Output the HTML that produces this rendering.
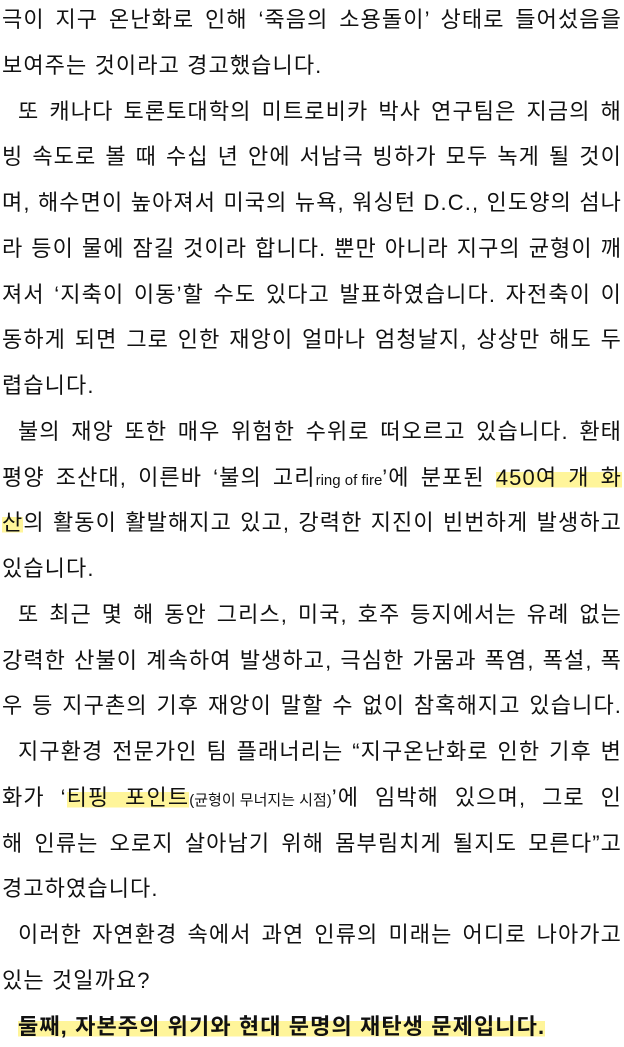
<!DOCTYPE html>
<html><head><meta charset="utf-8"><style>
html,body{margin:0;padding:0;background:#fff;width:624px;height:1047px;overflow:hidden}
body{position:relative;font-family:"Liberation Sans","Noto Sans CJK KR",sans-serif;font-size:22px;letter-spacing:1.1px;color:#111}
.l{position:absolute;left:2px;width:620px;height:30px;line-height:30px;white-space:nowrap;text-align:justify;text-align-last:justify}
.e{text-align-last:left}
.i{padding-left:16px;width:604px}
.s{font-size:15px;letter-spacing:0;display:inline-block}
.h{background:linear-gradient(transparent 28%,#fff59a 28%,#fff59a 90%,transparent 90%)}
.b{font-weight:bold;letter-spacing:1.1px}
</style></head><body>
<div class="l" style="top:5px">극이 지구 온난화로 인해 ‘죽음의 소용돌이’ 상태로 들어섰음을</div>
<div class="l e" style="top:51px">보여주는 것이라고 경고했습니다.</div>
<div class="l i" style="top:97px">또 캐나다 토론토대학의 미트로비카 박사 연구팀은 지금의 해</div>
<div class="l" style="top:142px">빙 속도로 볼 때 수십 년 안에 서남극 빙하가 모두 녹게 될 것이</div>
<div class="l" style="top:188px">며, 해수면이 높아져서 미국의 뉴욕, 워싱턴 D.C., 인도양의 섬나</div>
<div class="l" style="top:234px">라 등이 물에 잠길 것이라 합니다. 뿐만 아니라 지구의 균형이 깨</div>
<div class="l" style="top:280px">져서 ‘지축이 이동’할 수도 있다고 발표하였습니다. 자전축이 이</div>
<div class="l" style="top:325px">동하게 되면 그로 인한 재앙이 얼마나 엄청날지, 상상만 해도 두</div>
<div class="l e" style="top:371px">렵습니다.</div>
<div class="l i" style="top:417px">불의 재앙 또한 매우 위험한 수위로 떠오르고 있습니다. 환태</div>
<div class="l" style="top:463px">평양 조산대, 이른바 ‘불의 고리<span class="s">ring of fire</span>’에 분포된 <span class="h">450여 개 화</span></div>
<div class="l" style="top:508px"><span class="h">산</span>의 활동이 활발해지고 있고, 강력한 지진이 빈번하게 발생하고</div>
<div class="l e" style="top:554px">있습니다.</div>
<div class="l i" style="top:600px">또 최근 몇 해 동안 그리스, 미국, 호주 등지에서는 유례 없는</div>
<div class="l" style="top:646px">강력한 산불이 계속하여 발생하고, 극심한 가뭄과 폭염, 폭설, 폭</div>
<div class="l" style="top:691px">우 등 지구촌의 기후 재앙이 말할 수 없이 참혹해지고 있습니다.</div>
<div class="l i" style="top:737px">지구환경 전문가인 팀 플래너리는 “지구온난화로 인한 기후 변</div>
<div class="l" style="top:783px">화가 ‘<span class="h">티핑 포인트</span><span class="s">(균형이 무너지는 시점)</span>’에 임박해 있으며, 그로 인</div>
<div class="l" style="top:829px">해 인류는 오로지 살아남기 위해 몸부림치게 될지도 모른다”고</div>
<div class="l e" style="top:874px">경고하였습니다.</div>
<div class="l i" style="top:920px">이러한 자연환경 속에서 과연 인류의 미래는 어디로 나아가고</div>
<div class="l e" style="top:966px">있는 것일까요?</div>
<div class="l i e" style="top:1012px"><span class="h b">둘째, 자본주의 위기와 현대 문명의 재탄생 문제입니다.</span></div>
</body></html>
